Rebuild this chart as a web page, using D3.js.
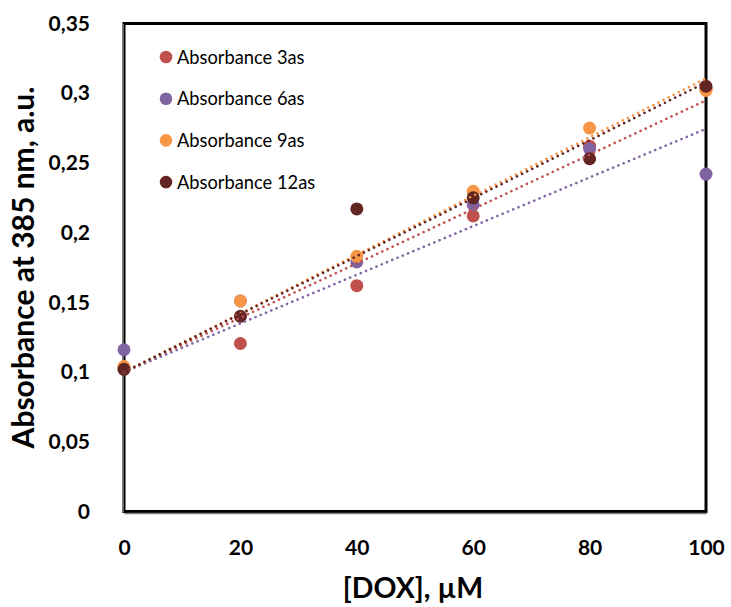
<!DOCTYPE html>
<html>
<head>
<meta charset="utf-8">
<script src="https://cdn.jsdelivr.net/npm/d3@7"></script>
<style>
  html, body { margin: 0; padding: 0; background: #fff; }
  svg { display: block; }
  text { font-family: Lato, "Open Sans", sans-serif; fill: #000; }
</style>
</head>
<body>
<svg id="chart" width="731" height="607"></svg>
<script>
// DOX concentrations (µM)
const doxConc = [0, 20, 40, 60, 80, 100];

// Absorbance at 385 nm for each incubation time
const abs3as  = [0.103, 0.1205, 0.162, 0.212, 0.262, 0.303];
const abs6as  = [0.116, 0.151, 0.179, 0.220, 0.260, 0.242];
const abs9as  = [0.104, 0.151, 0.183, 0.2297, 0.275, 0.302];
const abs12as = [0.102, 0.140, 0.217, 0.225, 0.253, 0.305];

const seriesNames  = ["Absorbance 3as", "Absorbance 6as", "Absorbance 9as", "Absorbance 12as"];
const seriesColors = ["#C0504D", "#8064A2", "#F79646", "#632523"];

// Linear trendlines share a fixed intercept
const trendIntercept = 0.1;

const yTickValues = [0, 0.05, 0.1, 0.15, 0.2, 0.25, 0.3, 0.35];
const yTickLabels = ["0", "0,05", "0,1", "0,15", "0,2", "0,25", "0,3", "0,35"];
const xTickValues = [0, 20, 40, 60, 80, 100];
const xTickLabels = ["0", "20", "40", "60", "80", "100"];

const series = [abs3as, abs6as, abs9as, abs12as].map((vals, i) => ({
  name: seriesNames[i],
  color: seriesColors[i],
  points: doxConc.map((x, j) => ({ x, y: vals[j] }))
}));

const svg = d3.select("#chart");
const plot = { left: 124, right: 706, top: 23.5, bottom: 511.5 };

const x = d3.scaleLinear().domain([0, 100]).range([plot.left, plot.right]);
const y = d3.scaleLinear().domain([0, 0.35]).range([plot.bottom, plot.top]);

// Plot frame
svg.append("rect")
  .attr("x", plot.left).attr("y", plot.top)
  .attr("width", plot.right - plot.left).attr("height", plot.bottom - plot.top)
  .attr("fill", "#fff").attr("stroke", "#000").attr("stroke-width", 3);

// Axes
const yAxis = d3.axisLeft(y)
  .tickValues(yTickValues)
  .tickFormat((d, i) => yTickLabels[i])
  .tickSize(0).tickPadding(32.5);
const gy = svg.append("g").attr("transform", `translate(${plot.left - 1.5},0)`).call(yAxis);

const xAxis = d3.axisBottom(x)
  .tickValues(xTickValues)
  .tickFormat((d, i) => xTickLabels[i])
  .tickSize(0).tickPadding(27);
const gx = svg.append("g").attr("transform", `translate(0,${plot.bottom + 1.5})`).call(xAxis);

[gx, gy].forEach(g => {
  g.select(".domain").attr("stroke", "#7f7f7f").attr("stroke-width", 1.5);
  g.selectAll(".tick text")
    .style("font-family", "Lato, sans-serif")
    .style("font-size", "21px")
    .style("font-weight", "bold")
    .attr("fill", "#000");
});

// Axis titles
svg.append("text")
  .attr("transform", `translate(34,${(plot.top + plot.bottom) / 2}) rotate(-90)`)
  .attr("text-anchor", "middle")
  .style("font-size", "30px")
  .style("font-weight", "bold")
  .text("Absorbance at 385 nm, a.u.");

svg.append("text")
  .attr("x", (plot.left + plot.right) / 2 - 2)
  .attr("y", 598)
  .attr("text-anchor", "middle")
  .style("font-size", "28.5px")
  .style("font-weight", "bold")
  .text("[DOX], µM");

// Markers
series.forEach(s => {
  svg.append("g")
    .selectAll("circle")
    .data(s.points)
    .join("circle")
    .attr("cx", d => x(d.x))
    .attr("cy", d => y(d.y))
    .attr("r", 6.5)
    .attr("fill", s.color);
});

// Least-squares slope with the intercept held fixed
function fixedInterceptSlope(points, b) {
  const num = d3.sum(points, p => p.x * (p.y - b));
  const den = d3.sum(points, p => p.x * p.x);
  return num / den;
}

const line = d3.line().x(d => x(d.x)).y(d => y(d.y));
series.forEach(s => {
  const m = fixedInterceptSlope(s.points, trendIntercept);
  const ends = [0, 100].map(v => ({ x: v, y: trendIntercept + m * v }));
  svg.append("path")
    .attr("d", line(ends))
    .attr("fill", "none")
    .attr("stroke", s.color)
    .attr("stroke-width", 2.6)
    .attr("stroke-linecap", "round")
    .attr("stroke-dasharray", "0.1 5.6");
});

// Legend
const legend = svg.append("g").attr("transform", "translate(166,57)");
series.forEach((s, i) => {
  const row = legend.append("g").attr("transform", `translate(0,${i * 41.7})`);
  row.append("circle").attr("r", 6.3).attr("fill", s.color);
  row.append("text")
    .attr("x", 11).attr("y", 6.5)
    .style("font-size", "18.3px")
    .text(s.name);
});
</script>
</body>
</html>
